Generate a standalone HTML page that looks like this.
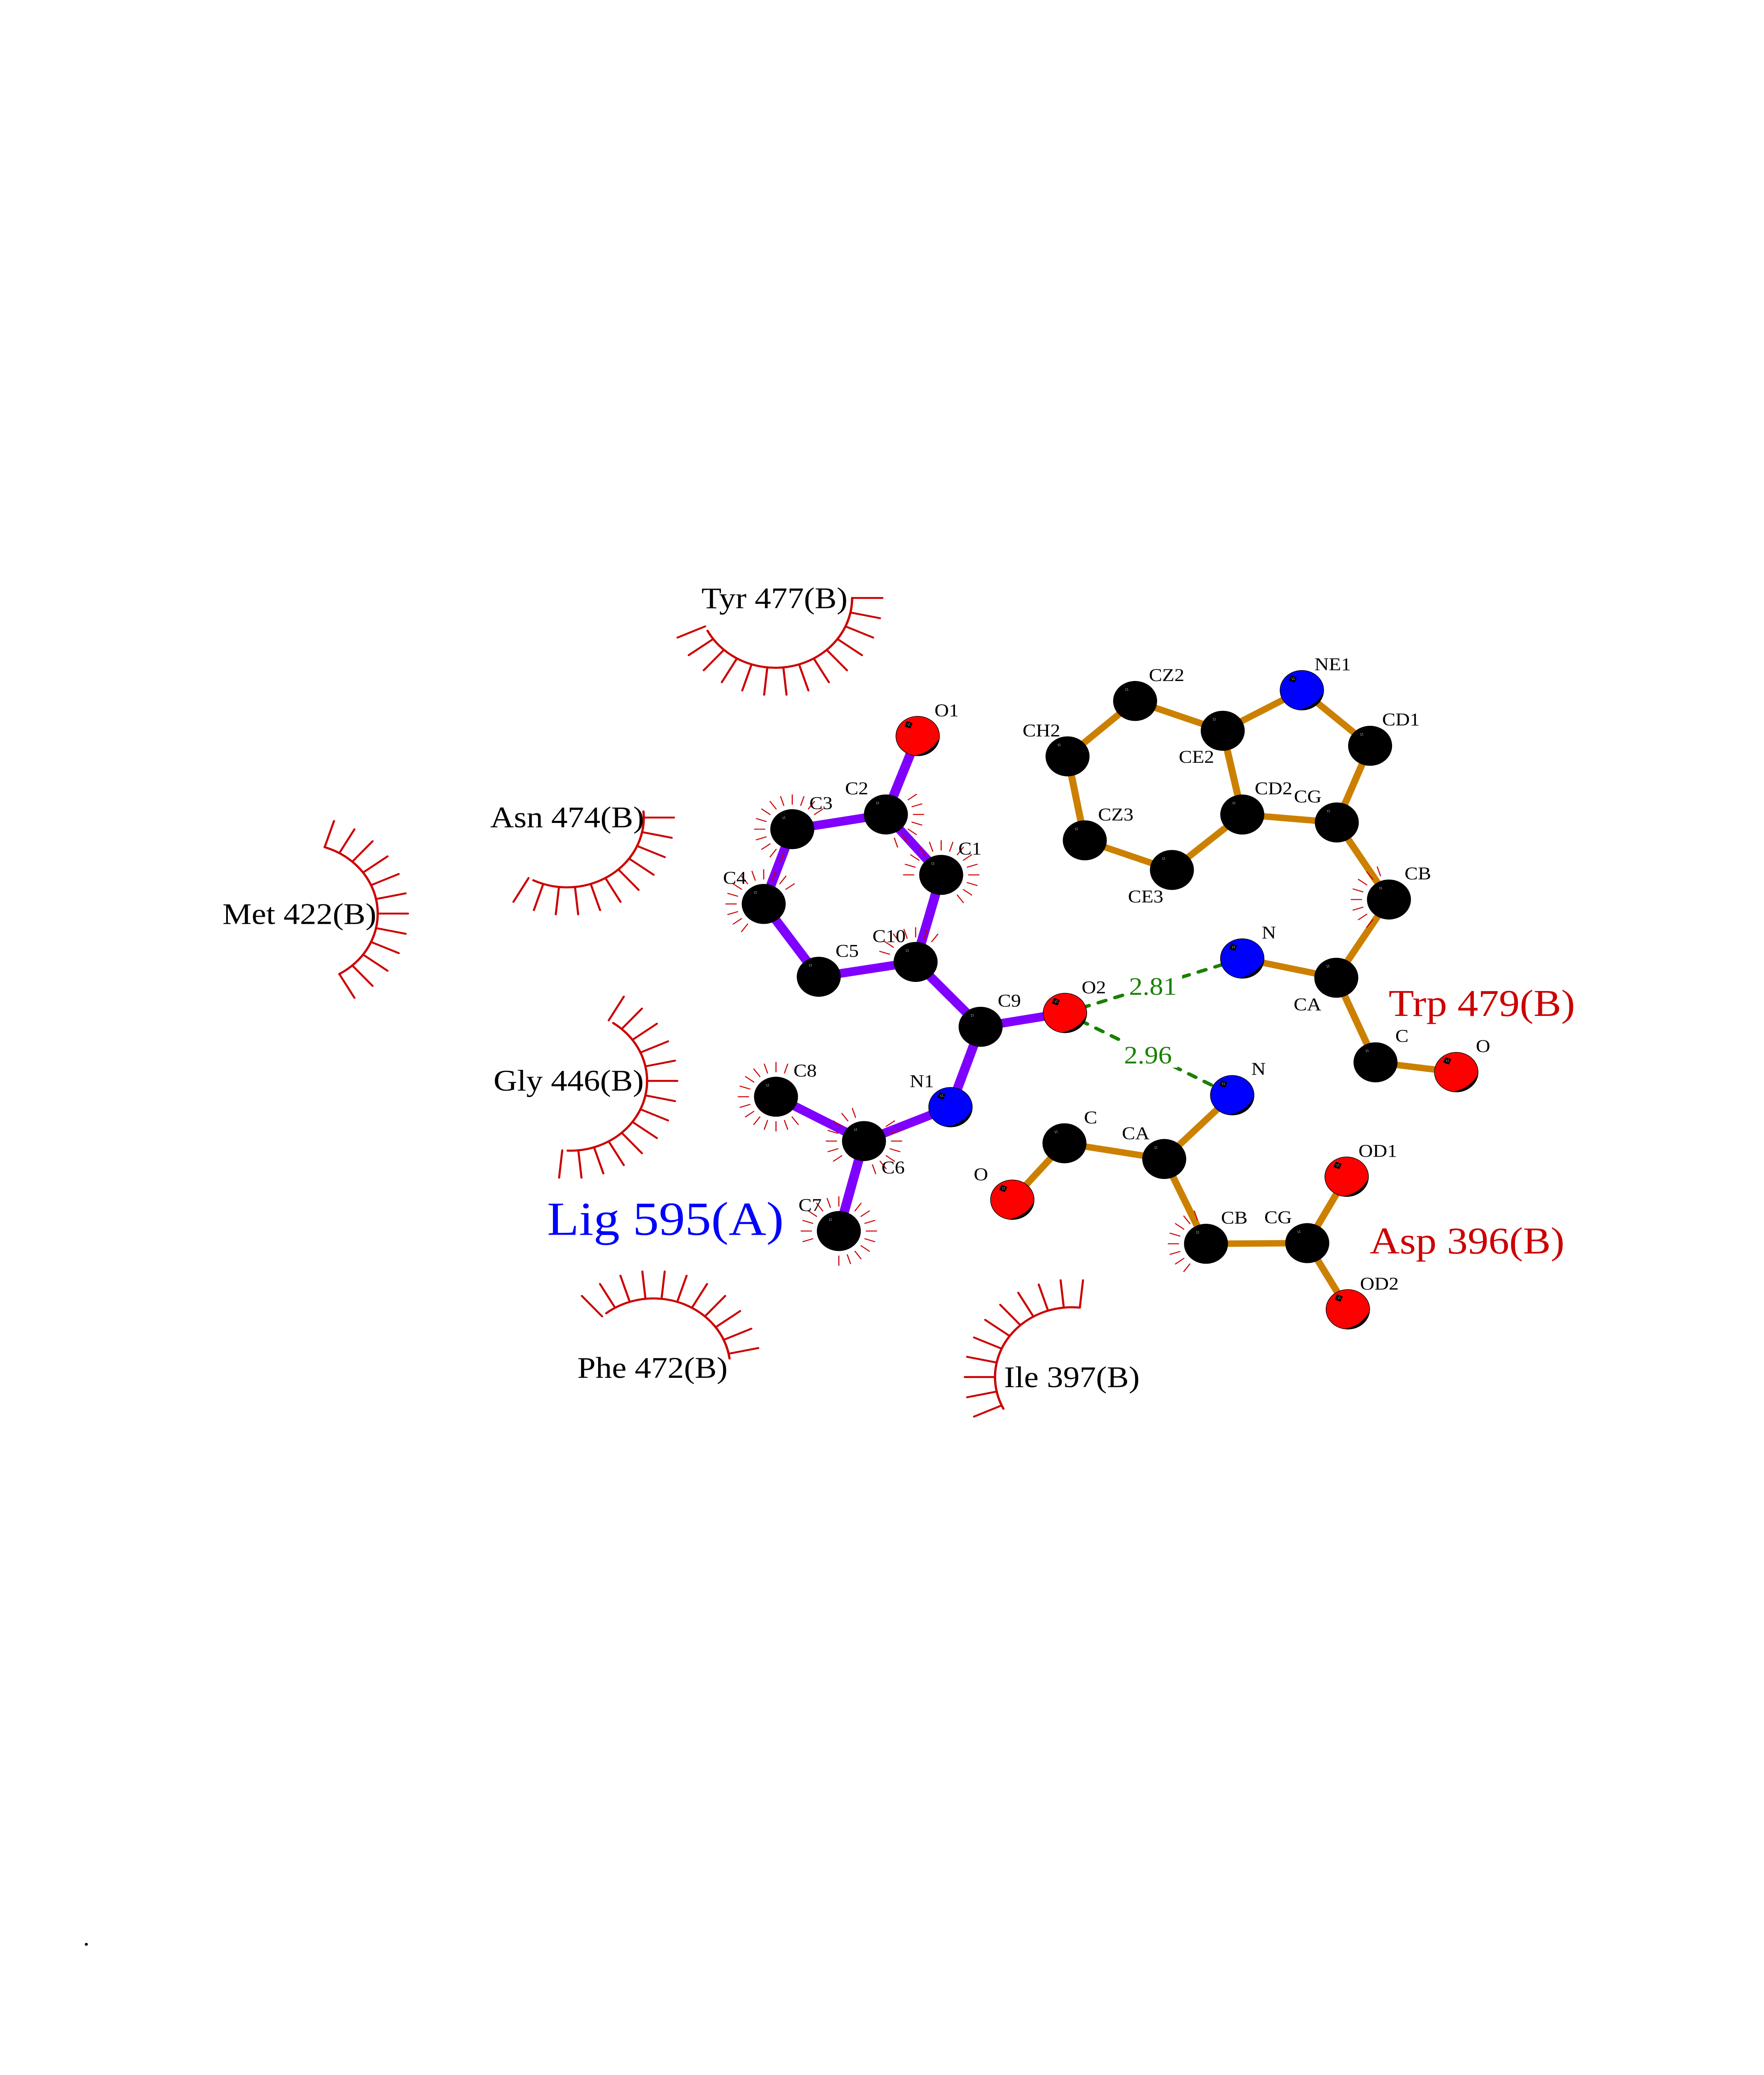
<!DOCTYPE html>
<html><head><meta charset="utf-8"><title>Ligplot</title>
<style>
html,body{margin:0;padding:0;background:#fff;width:100%;height:100%;overflow:hidden}
svg{display:block;width:100vw;height:100vh}
text{font-family:"Liberation Serif",serif;fill:#000}
.a{font-size:48px}
.r{font-size:79px}
.t{font-size:100px;fill:#c00}
.d{font-size:66px;fill:#1a8000}
.p line{stroke:#8000ff;stroke-width:23}
.o line{stroke:#cc8000;stroke-width:17}
.ray use{stroke:#c00;stroke-width:2.6}
.e{stroke:#c00;stroke-width:5;stroke-linecap:round;fill:none}
.e circle{stroke-width:5.5}
.h line{stroke:#1a8000;stroke-width:9;stroke-linecap:round;stroke-dasharray:19 23.4}
</style></head><body>
<svg xmlns="http://www.w3.org/2000/svg" viewBox="0 0 4250 5500" preserveAspectRatio="none">
<defs>
<line id="y" x1="65" x2="92" y1="0" y2="0"/>
<line id="s" x1="185" x2="258" y1="0" y2="0"/>
<g id="w"><rect x="-2.5" y="-2.5" width="1.8" height="1.8" fill="#ddd"/><rect x="1.5" y="-3.5" width="1.8" height="1.8" fill="#ddd"/><rect x="-1.5" y="1.2" width="1.8" height="1.8" fill="#ddd"/><rect x="2.5" y="0.3" width="1.8" height="1.8" fill="#ddd"/></g>
<g id="k"><circle r="53" fill="#000"/><use href="#w" x="-21" y="-30"/></g>
<g id="hl"><rect x="-7.5" y="-7.5" width="15" height="15" fill="#000" transform="translate(-22 -30) rotate(22)"/><use href="#w" x="-22" y="-30"/><path d="M51.5 6A52 52 0 0 1-8 51.5A80 80 0 0 0 51.5 6Z" fill="#000"/></g>
<g id="ro"><circle r="52.5" fill="#f00" stroke="#000" stroke-width="1.5"/><use href="#hl"/></g>
<g id="bl"><circle r="52.5" fill="#00f" stroke="#000" stroke-width="1.5"/><use href="#hl"/></g>
</defs>

<!-- H-bonds -->
<g class="h">
<line x1="2565.8" y1="2685" x2="2993" y2="2540.6"/>
<line x1="2565.8" y1="2685" x2="2968.8" y2="2903"/>
</g>
<rect x="2709" y="2560" width="139" height="90" fill="#fff"/>
<rect x="2697" y="2758" width="140" height="72" fill="#fff"/>

<!-- Ligand bonds -->
<g class="p">
<line x1="2211" y1="1951" x2="2134.4" y2="2158.8"/>
<line x1="2134.4" y1="2158.8" x2="1908.8" y2="2197.8"/>
<line x1="2134.4" y1="2158.8" x2="2267.6" y2="2319"/>
<line x1="1908.8" y1="2197.8" x2="1840" y2="2396"/>
<line x1="1840" y1="2396" x2="1972.6" y2="2589"/>
<line x1="1972.6" y1="2589" x2="2206" y2="2549.7"/>
<line x1="2267.6" y1="2319" x2="2206" y2="2549.7"/>
<line x1="2206" y1="2549.7" x2="2362.6" y2="2721.6"/>
<line x1="2362.6" y1="2721.6" x2="2565.8" y2="2685"/>
<line x1="2362.6" y1="2721.6" x2="2290" y2="2934.7"/>
<line x1="2290" y1="2934.7" x2="2081.6" y2="3024.5"/>
<line x1="2081.6" y1="3024.5" x2="1869.6" y2="2907"/>
<line x1="2081.6" y1="3024.5" x2="2021" y2="3263"/>
</g>

<!-- Residue bonds -->
<g class="o">
<line x1="2993" y1="2540.6" x2="3219.5" y2="2591.6"/>
<line x1="3219.5" y1="2591.6" x2="3346.4" y2="2384.3"/>
<line x1="3346.4" y1="2384.3" x2="3220.8" y2="2180"/>
<line x1="3220.8" y1="2180" x2="3301" y2="1976.8"/>
<line x1="3301" y1="1976.8" x2="3136.6" y2="1829.5"/>
<line x1="3136.6" y1="1829.5" x2="2945.9" y2="1937"/>
<line x1="2945.9" y1="1937" x2="2993" y2="2159"/>
<line x1="2993" y1="2159" x2="3220.8" y2="2180"/>
<line x1="2945.9" y1="1937" x2="2734.8" y2="1858"/>
<line x1="2734.8" y1="1858" x2="2572" y2="2004.8"/>
<line x1="2572" y1="2004.8" x2="2613.6" y2="2227.4"/>
<line x1="2613.6" y1="2227.4" x2="2823.5" y2="2305.9"/>
<line x1="2823.5" y1="2305.9" x2="2993" y2="2159"/>
<line x1="3219.5" y1="2591.6" x2="3314" y2="2815.8"/>
<line x1="3314" y1="2815.8" x2="3508.6" y2="2841.8"/>
<line x1="2968.8" y1="2903" x2="2805" y2="3072"/>
<line x1="2805" y1="3072" x2="2564.6" y2="3030.4"/>
<line x1="2564.6" y1="3030.4" x2="2439" y2="3180"/>
<line x1="2805" y1="3072" x2="2905.6" y2="3296.8"/>
<line x1="2905.6" y1="3296.8" x2="3149.6" y2="3295"/>
<line x1="3149.6" y1="3295" x2="3244.5" y2="3119"/>
<line x1="3149.6" y1="3295" x2="3247.4" y2="3470.5"/>
</g>

<!-- Hydrophobic atom rays -->
<g class="ray">
<g transform="translate(1908.8 2197.8)"><use href="#y" transform="rotate(-36)"/><use href="#y" transform="rotate(-54)"/><use href="#y" transform="rotate(-72)"/><use href="#y" transform="rotate(-90)"/><use href="#y" transform="rotate(-108)"/><use href="#y" transform="rotate(-126)"/><use href="#y" transform="rotate(-144)"/><use href="#y" transform="rotate(-162)"/><use href="#y" transform="rotate(-180)"/><use href="#y" transform="rotate(-198)"/><use href="#y" transform="rotate(-216)"/><use href="#y" transform="rotate(-234)"/><use href="#y" transform="rotate(-252)"/></g>
<g transform="translate(2134.4 2158.8)"><use href="#y" transform="rotate(72)"/><use href="#y" transform="rotate(54)"/><use href="#y" transform="rotate(36)"/><use href="#y" transform="rotate(18)"/><use href="#y"/><use href="#y" transform="rotate(-18)"/><use href="#y" transform="rotate(-36)"/></g>
<g transform="translate(2267.6 2319)"><use href="#y" transform="rotate(54)"/><use href="#y" transform="rotate(36)"/><use href="#y" transform="rotate(18)"/><use href="#y"/><use href="#y" transform="rotate(-18)"/><use href="#y" transform="rotate(-36)"/><use href="#y" transform="rotate(-54)"/><use href="#y" transform="rotate(-72)"/><use href="#y" transform="rotate(-90)"/><use href="#y" transform="rotate(-108)"/><use href="#y" transform="rotate(-126)"/><use href="#y" transform="rotate(-144)"/><use href="#y" transform="rotate(-162)"/><use href="#y" transform="rotate(-180)"/></g>
<g transform="translate(1840 2396)"><use href="#y" transform="rotate(-36)"/><use href="#y" transform="rotate(-54)"/><use href="#y" transform="rotate(-72)"/><use href="#y" transform="rotate(-90)"/><use href="#y" transform="rotate(-108)"/><use href="#y" transform="rotate(-126)"/><use href="#y" transform="rotate(-144)"/><use href="#y" transform="rotate(-162)"/><use href="#y" transform="rotate(-180)"/><use href="#y" transform="rotate(-198)"/><use href="#y" transform="rotate(-216)"/><use href="#y" transform="rotate(-234)"/></g>
<g transform="translate(2206 2549.7)"><use href="#y" transform="rotate(-54)"/><use href="#y" transform="rotate(-72)"/><use href="#y" transform="rotate(-90)"/><use href="#y" transform="rotate(-108)"/><use href="#y" transform="rotate(-126)"/><use href="#y" transform="rotate(-144)"/><use href="#y" transform="rotate(-162)"/></g>
<g transform="translate(1869.6 2907)"><use href="#y" transform="rotate(-72)"/><use href="#y" transform="rotate(-90)"/><use href="#y" transform="rotate(-108)"/><use href="#y" transform="rotate(-126)"/><use href="#y" transform="rotate(-144)"/><use href="#y" transform="rotate(-162)"/><use href="#y" transform="rotate(-180)"/><use href="#y" transform="rotate(-198)"/><use href="#y" transform="rotate(-216)"/><use href="#y" transform="rotate(-234)"/><use href="#y" transform="rotate(-252)"/><use href="#y" transform="rotate(-270)"/><use href="#y" transform="rotate(-288)"/><use href="#y" transform="rotate(-306)"/></g>
<g transform="translate(2081.6 3024.5)"><use href="#y" transform="rotate(72)"/><use href="#y" transform="rotate(54)"/><use href="#y" transform="rotate(36)"/><use href="#y" transform="rotate(18)"/><use href="#y"/><use href="#y" transform="rotate(-18)"/><use href="#y" transform="rotate(-36)"/><use href="#y" transform="rotate(-108)"/><use href="#y" transform="rotate(-126)"/><use href="#y" transform="rotate(-144)"/><use href="#y" transform="rotate(-162)"/><use href="#y" transform="rotate(-180)"/><use href="#y" transform="rotate(-198)"/><use href="#y" transform="rotate(-216)"/></g>
<g transform="translate(2021 3263)"><use href="#y" transform="rotate(90)"/><use href="#y" transform="rotate(72)"/><use href="#y" transform="rotate(54)"/><use href="#y" transform="rotate(36)"/><use href="#y" transform="rotate(18)"/><use href="#y"/><use href="#y" transform="rotate(-18)"/><use href="#y" transform="rotate(-36)"/><use href="#y" transform="rotate(-54)"/><use href="#y" transform="rotate(-90)"/><use href="#y" transform="rotate(-108)"/><use href="#y" transform="rotate(-126)"/><use href="#y" transform="rotate(-144)"/><use href="#y" transform="rotate(-162)"/><use href="#y" transform="rotate(-180)"/><use href="#y" transform="rotate(-198)"/></g>
<g transform="translate(2905.6 3296.8)"><use href="#y" transform="rotate(-108)"/><use href="#y" transform="rotate(-126)"/><use href="#y" transform="rotate(-144)"/><use href="#y" transform="rotate(-162)"/><use href="#y" transform="rotate(-180)"/><use href="#y" transform="rotate(-198)"/><use href="#y" transform="rotate(-216)"/><use href="#y" transform="rotate(-234)"/></g>
<g transform="translate(3346.4 2384.3)"><use href="#y" transform="rotate(-108)"/><use href="#y" transform="rotate(-126)"/><use href="#y" transform="rotate(-144)"/><use href="#y" transform="rotate(-162)"/><use href="#y" transform="rotate(-180)"/><use href="#y" transform="rotate(-198)"/><use href="#y" transform="rotate(-216)"/><use href="#y" transform="rotate(-234)"/></g>
</g>

<!-- Eyelash arcs -->
<g class="e">
<!-- Met 422: spokes 72..-60 -->
<g transform="translate(725 2421.5)"><circle r="185" pathLength="360" stroke-dasharray="132 228" transform="rotate(-72)"/><use href="#s" transform="rotate(-72)"/><use href="#s" transform="rotate(-60)"/><use href="#s" transform="rotate(-48)"/><use href="#s" transform="rotate(-36)"/><use href="#s" transform="rotate(-24)"/><use href="#s" transform="rotate(-12)"/><use href="#s"/><use href="#s" transform="rotate(12)"/><use href="#s" transform="rotate(24)"/><use href="#s" transform="rotate(36)"/><use href="#s" transform="rotate(48)"/><use href="#s" transform="rotate(60)"/></g>
<!-- Asn 474: spokes 0..-120 -->
<g transform="translate(1366 2167)"><circle r="185" pathLength="360" stroke-dasharray="121 239" transform="rotate(-5)"/><use href="#s"/><use href="#s" transform="rotate(12)"/><use href="#s" transform="rotate(24)"/><use href="#s" transform="rotate(36)"/><use href="#s" transform="rotate(48)"/><use href="#s" transform="rotate(60)"/><use href="#s" transform="rotate(72)"/><use href="#s" transform="rotate(84)"/><use href="#s" transform="rotate(96)"/><use href="#s" transform="rotate(108)"/><use href="#s" transform="rotate(120)"/></g>
<!-- Tyr 477: spokes 0..-156 -->
<g transform="translate(1868 1585)"><circle r="185" pathLength="360" stroke-dasharray="152 208"/><use href="#s"/><use href="#s" transform="rotate(12)"/><use href="#s" transform="rotate(24)"/><use href="#s" transform="rotate(36)"/><use href="#s" transform="rotate(48)"/><use href="#s" transform="rotate(60)"/><use href="#s" transform="rotate(72)"/><use href="#s" transform="rotate(84)"/><use href="#s" transform="rotate(96)"/><use href="#s" transform="rotate(108)"/><use href="#s" transform="rotate(120)"/><use href="#s" transform="rotate(132)"/><use href="#s" transform="rotate(144)"/><use href="#s" transform="rotate(156)"/></g>
<!-- Gly 446: spokes 60..-96 -->
<g transform="translate(1374 2865)"><circle r="185" pathLength="360" stroke-dasharray="148 212" transform="rotate(-56)"/><use href="#s" transform="rotate(-60)"/><use href="#s" transform="rotate(-48)"/><use href="#s" transform="rotate(-36)"/><use href="#s" transform="rotate(-24)"/><use href="#s" transform="rotate(-12)"/><use href="#s"/><use href="#s" transform="rotate(12)"/><use href="#s" transform="rotate(24)"/><use href="#s" transform="rotate(36)"/><use href="#s" transform="rotate(48)"/><use href="#s" transform="rotate(60)"/><use href="#s" transform="rotate(72)"/><use href="#s" transform="rotate(84)"/><use href="#s" transform="rotate(96)"/></g>
<!-- Phe 472: spokes 12..132 -->
<g transform="translate(1574.5 3626.7)"><circle r="185" pathLength="360" stroke-dasharray="120 240" transform="rotate(-128)"/><use href="#s" transform="rotate(-132)"/><use href="#s" transform="rotate(-120)"/><use href="#s" transform="rotate(-108)"/><use href="#s" transform="rotate(-96)"/><use href="#s" transform="rotate(-84)"/><use href="#s" transform="rotate(-72)"/><use href="#s" transform="rotate(-60)"/><use href="#s" transform="rotate(-48)"/><use href="#s" transform="rotate(-36)"/><use href="#s" transform="rotate(-24)"/><use href="#s" transform="rotate(-12)"/></g>
<!-- Ile 397: spokes 84..204 -->
<g transform="translate(2582.3 3650)"><circle r="185" pathLength="360" stroke-dasharray="123 237" transform="rotate(-207)"/><use href="#s" transform="rotate(-84)"/><use href="#s" transform="rotate(-96)"/><use href="#s" transform="rotate(-108)"/><use href="#s" transform="rotate(-120)"/><use href="#s" transform="rotate(-132)"/><use href="#s" transform="rotate(-144)"/><use href="#s" transform="rotate(-156)"/><use href="#s" transform="rotate(-168)"/><use href="#s" transform="rotate(-180)"/><use href="#s" transform="rotate(-192)"/><use href="#s" transform="rotate(-204)"/></g>
</g>

<!-- Atoms: ligand -->
<use href="#ro" x="2211" y="1951"/>
<use href="#k" x="2134.4" y="2158.8"/>
<use href="#k" x="1908.8" y="2197.8"/>
<use href="#k" x="2267.6" y="2319"/>
<use href="#k" x="1840" y="2396"/>
<use href="#k" x="2206" y="2549.7"/>
<use href="#k" x="1972.6" y="2589"/>
<use href="#k" x="2362.6" y="2721.6"/>
<use href="#ro" x="2565.8" y="2685"/>
<use href="#bl" x="2290" y="2934.7"/>
<use href="#k" x="1869.6" y="2907"/>
<use href="#k" x="2081.6" y="3024.5"/>
<use href="#k" x="2021" y="3263"/>
<!-- Atoms: Trp -->
<use href="#bl" x="3136.6" y="1829.5"/>
<use href="#k" x="2734.8" y="1858"/>
<use href="#k" x="2945.9" y="1937"/>
<use href="#k" x="3301" y="1976.8"/>
<use href="#k" x="2572" y="2004.8"/>
<use href="#k" x="2993" y="2159"/>
<use href="#k" x="3220.8" y="2180"/>
<use href="#k" x="2613.6" y="2227.4"/>
<use href="#k" x="2823.5" y="2305.9"/>
<use href="#k" x="3346.4" y="2384.3"/>
<use href="#bl" x="2993" y="2540.6"/>
<use href="#k" x="3219.5" y="2591.6"/>
<use href="#k" x="3314" y="2815.8"/>
<use href="#ro" x="3508.6" y="2841.8"/>
<!-- Atoms: Asp -->
<use href="#bl" x="2968.8" y="2903"/>
<use href="#k" x="2564.6" y="3030.4"/>
<use href="#k" x="2805" y="3072"/>
<use href="#ro" x="2439" y="3180"/>
<use href="#k" x="2905.6" y="3296.8"/>
<use href="#k" x="3149.6" y="3295"/>
<use href="#ro" x="3244.5" y="3119"/>
<use href="#ro" x="3247.4" y="3470.5"/>

<!-- Atom labels -->
<text class="a" x="2251.5" y="1898.7">O1</text>
<text class="a" x="2036" y="2105.4">C2</text>
<text class="a" x="1950" y="2144.4">C3</text>
<text class="a" x="2309" y="2265">C1</text>
<text class="a" x="1742" y="2342.5">C4</text>
<text class="a" x="2102" y="2497">C10</text>
<text class="a" x="2013" y="2536">C5</text>
<text class="a" x="2403.7" y="2668">C9</text>
<text class="a" x="2606" y="2633">O2</text>
<text class="a" x="2191.7" y="2881.6">N1</text>
<text class="a" x="1911.8" y="2853.6">C8</text>
<text class="a" x="2123.7" y="3110">C6</text>
<text class="a" x="1923.7" y="3209.7">C7</text>
<text class="a" x="3167" y="1776.5">NE1</text>
<text class="a" x="2768" y="1805">CZ2</text>
<text class="a" x="3330" y="1923">CD1</text>
<text class="a" x="2463.8" y="1952">CH2</text>
<text class="a" x="2840" y="2022">CE2</text>
<text class="a" x="3023" y="2105.6">CD2</text>
<text class="a" x="3117.5" y="2127">CG</text>
<text class="a" x="2645.5" y="2174.5">CZ3</text>
<text class="a" x="2717.6" y="2392">CE3</text>
<text class="a" x="3384" y="2331">CB</text>
<text class="a" x="3039.7" y="2487.6">N</text>
<text class="a" x="3116.8" y="2677.7">CA</text>
<text class="a" x="3361.6" y="2761.8">C</text>
<text class="a" x="3555.7" y="2788.4">O</text>
<text class="a" x="3014.7" y="2849">N</text>
<text class="a" x="2611.7" y="2977.6">C</text>
<text class="a" x="2703" y="3019.5">CA</text>
<text class="a" x="2346" y="3128.6">O</text>
<text class="a" x="2941.8" y="3243.4">CB</text>
<text class="a" x="3046" y="3242">CG</text>
<text class="a" x="3273" y="3066">OD1</text>
<text class="a" x="3276.7" y="3418">OD2</text>

<!-- Residue labels -->
<text class="r" x="1690" y="1612">Tyr 477(B)</text>
<text class="r" x="1181" y="2193">Asn 474(B)</text>
<text class="r" x="536" y="2449">Met 422(B)</text>
<text class="r" x="1189" y="2891">Gly 446(B)</text>
<text class="r" x="1391" y="3652">Phe 472(B)</text>
<text class="r" x="2419" y="3677">Ile 397(B)</text>
<text x="1318" y="3273" style="font-size:126px;fill:#00f">Lig 595(A)</text>
<text class="t" x="3345.6" y="2693">Trp 479(B)</text>
<text class="t" x="3300" y="3322.5">Asp 396(B)</text>
<text class="d" x="2720" y="2636.6">2.81</text>
<text class="d" x="2708" y="2818.6">2.96</text>
<text x="200" y="5156.5" style="font-size:64px">.</text>
</svg>
</body></html>
